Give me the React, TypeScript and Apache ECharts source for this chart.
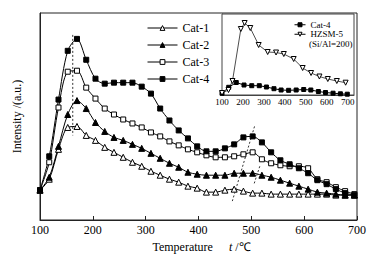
import React, { useEffect, useRef } from 'react';
import * as echarts from 'echarts';

const FONT = '"Liberation Serif", "Times New Roman", serif';

const temps = [100, 117.5, 135, 152.5, 170, 187.5, 205, 222.5, 240, 257.5, 275, 292.5, 310, 327.5, 345, 362.5, 380, 397.5, 415, 432.5, 450, 467.5, 485, 502.5, 520, 537.5, 555, 572.5, 590, 607.5, 625, 642.5, 660, 677.5, 695];
const cat1 = [30, 41, 71, 93, 94, 85, 80, 73, 68, 63, 58, 54, 49, 45, 41, 38, 34, 32, 28, 28, 30, 31, 29, 27, 27, 26, 26, 26, 26, 26, 26, 26, 25, 25, 25];
const cat2 = [30, 43, 74, 106, 120, 112, 98, 89, 83, 80, 76, 72, 67, 62, 57, 53, 48, 46, 45, 45, 45, 47, 47, 47, 45, 43, 40, 37, 34, 31, 28, 27, 26, 25, 25];
const cat3 = [30, 58, 113, 149, 150, 133, 122, 112, 106, 101, 97, 93, 88, 84, 79, 75, 71, 68, 65, 63, 63, 64, 66, 68, 61, 57, 55, 54, 54, 52, 41, 38, 33, 29, 26];
const cat4 = [30, 64, 121, 170, 182, 161, 142, 137, 138, 138, 138, 134, 127, 112, 100, 90, 82, 74, 69, 69, 72, 76, 83, 84, 78, 68, 60, 56, 52, 47, 40, 36, 31, 27, 25];

const insetTemps4 = [100, 132, 168, 205, 242, 278, 312, 348, 382, 418, 454, 490, 524, 560, 594, 630, 665, 698];
const insetCat4 = [1.7, 7.7, 12.5, 10, 9.3, 9.3, 8, 6.3, 5, 4.7, 5, 5.5, 5, 3.5, 2.5, 1.8, 1.2, 0.8];
const insetTempsH = [100, 131, 150, 190, 208, 235, 275, 318, 358, 395, 442, 485, 525, 565, 605, 648, 690];
const insetHZSM = [2, 5, 14, 66, 72, 67, 50, 43, 42.5, 41, 36, 27, 22, 18.5, 16, 14, 12.3];

const peakLine = [[162, 186], [162, 85]];
const shiftLine1 = [[506, 94], [464, 19]];
const shiftLine2 = [[516, 54], [505, 36]];

const zip = (xs: number[], ys: number[]) => xs.map((x, i) => [x, ys[i]]);

export default function App() {
  const ref = useRef<HTMLDivElement>(null);
  useEffect(() => {
    const chart = echarts.init(ref.current!, null, { renderer: 'svg' });
    const openStyle = { color: '#fff', borderColor: '#000', borderWidth: 1 };
    const fillStyle = { color: '#000', borderColor: '#000', borderWidth: 1 };
    const line = { color: '#000', width: 1 };
    const mk = (name: string, data: number[], symbol: string, open: boolean, size: number) => ({
      type: 'line', name, data: zip(temps, data), symbol, symbolSize: size, smooth: 0.3,
      itemStyle: open ? openStyle : fillStyle, lineStyle: line, z: 3,
    });
    const dash = (data: number[][]) => ({
      type: 'line', data, showSymbol: false, symbol: 'none', silent: true,
      lineStyle: { color: '#000', width: 0.8, type: [2, 2] }, z: 2,
    });
    const legItem = (name: string, open: boolean) => ({
      name,
      itemStyle: open ? { color: '#fff', borderColor: '#000', borderWidth: 1 } : { color: '#000', borderColor: '#000', borderWidth: 1 },
      lineStyle: { color: '#000', width: 1 },
    });
    chart.setOption({
      animation: false,
      backgroundColor: '#fff',
      textStyle: { fontFamily: FONT, color: '#000' },
      grid: [
        { left: 40, top: 13, right: 27, bottom: 37, show: true, borderColor: '#222', borderWidth: 1 },
        { left: 222, top: 14, width: 132, height: 81, show: true, borderColor: '#444', borderWidth: 1, backgroundColor: '#fff', z: 5 },
      ],
      xAxis: [
        {
          type: 'value', gridIndex: 0, min: 100, max: 700, interval: 100,
          axisLine: { lineStyle: { color: '#222' } },
          axisTick: { inside: true, length: 4, lineStyle: { color: '#222' } },
          splitLine: { show: false },
          axisLabel: { fontFamily: FONT, fontSize: 12, color: '#000', margin: 4 },
          name: '{a|Temperature}{b|t}{a| /℃}', nameLocation: 'middle', nameGap: 21,
          nameTextStyle: {
            padding: [0, 0, 0, 6],
            rich: {
              a: { fontFamily: FONT, fontSize: 12, color: '#000' },
              b: { fontFamily: FONT, fontSize: 12, color: '#000', fontStyle: 'italic', padding: [0, 0, 0, 16] },
            },
          },
        },
        {
          type: 'value', gridIndex: 1, min: 100, max: 730, interval: 100,
          axisLine: { lineStyle: { color: '#444' } },
          axisTick: { show: false },
          splitLine: { show: false },
          axisLabel: { fontFamily: FONT, fontSize: 9, color: '#000', margin: 2, formatter: (v: number) => (v % 100 === 0 ? String(v) : '') },
        },
      ],
      yAxis: [
        {
          type: 'value', gridIndex: 0, min: 0, max: 208,
          axisLine: { show: true, lineStyle: { color: '#222' } },
          axisTick: { show: false }, axisLabel: { show: false }, splitLine: { show: false },
          name: 'Intensity /(a.u.)', nameLocation: 'middle', nameGap: 17,
          nameTextStyle: { fontFamily: FONT, fontSize: 12, color: '#000' },
        },
        {
          type: 'value', gridIndex: 1, min: 0, max: 81,
          axisLine: { show: true, lineStyle: { color: '#444' } },
          axisTick: { show: false }, axisLabel: { show: false }, splitLine: { show: false },
        },
      ],
      legend: [
        {
          data: [legItem('Cat-1', true), legItem('Cat-2', false), legItem('Cat-3', true), legItem('Cat-4', false)],
          orient: 'vertical', left: 147, top: 21, padding: 0, itemWidth: 30, itemHeight: 6, itemGap: 3,
          textStyle: { fontFamily: FONT, fontSize: 12, color: '#000', lineHeight: 14 }, selectedMode: false,
        },
        {
          data: [legItem('Cat-4', false), legItem('HZSM-5', true)],
          orient: 'vertical', left: 294, top: 20, padding: 0, itemWidth: 11, itemHeight: 5, itemGap: 0,
          textStyle: { fontFamily: FONT, fontSize: 9, color: '#000', lineHeight: 9.5 }, selectedMode: false, z: 10,
        },
      ],
      graphic: [
        { type: 'text', left: 309, top: 39.5, z: 100, style: { text: '(Si/Al=200)', font: `9px ${FONT}`, fill: '#000' } },
      ],
      series: [
        mk('Cat-1', cat1, 'triangle', true, 6),
        mk('Cat-2', cat2, 'triangle', false, 6),
        mk('Cat-3', cat3, 'rect', true, 5),
        mk('Cat-4', cat4, 'rect', false, 5),
        dash(peakLine),
        dash(shiftLine1),
        dash(shiftLine2),
        {
          type: 'line', name: 'Cat-4', xAxisIndex: 1, yAxisIndex: 1, data: zip(insetTemps4, insetCat4),
          symbol: 'rect', symbolSize: 4, itemStyle: fillStyle, lineStyle: line, z: 6,
        },
        {
          type: 'line', name: 'HZSM-5', xAxisIndex: 1, yAxisIndex: 1, data: zip(insetTempsH, insetHZSM),
          symbol: 'triangle', symbolRotate: 180, symbolSize: 5, itemStyle: openStyle, lineStyle: { color: '#000', width: 0.7 }, z: 6,
        },
      ],
    });
    return () => chart.dispose();
  }, []);
  return <div ref={ref} style={{ position: 'fixed', left: 0, top: 0, width: 384, height: 258 }} />;
}
